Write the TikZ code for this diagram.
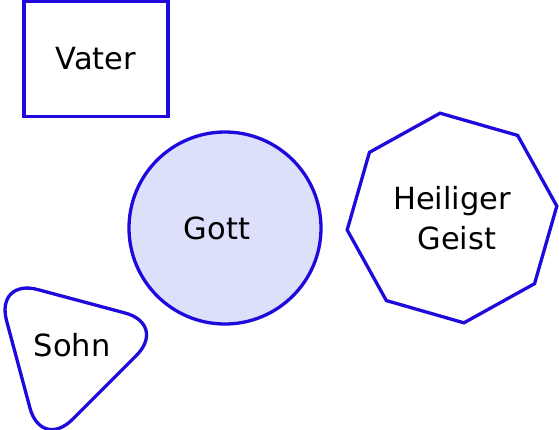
\documentclass[tikz,border=0pt]{standalone}
\usepackage{fontspec}
\setmainfont{DejaVu Sans}
\usetikzlibrary{shapes.geometric}
\definecolor{strokeblue}{RGB}{30,10,220}
\definecolor{godfill}{RGB}{221,224,250}

\begin{document}
\begin{tikzpicture}[
    x=1pt, y=-1pt,
    every node/.style={font=\fontsize{30.5}{40}\selectfont, align=center},
    basebox/.style={draw=strokeblue, line width=3.3pt, inner sep=0pt},
    person/.style={basebox, rectangle, minimum width=144pt, minimum height=115pt},
    godhead/.style={basebox, circle, fill=godfill, minimum size=192pt},
    spirit/.style={basebox, regular polygon, regular polygon sides=8,
                   shape border rotate=-16, minimum size=211pt},
    son/.style={basebox, regular polygon, regular polygon sides=3,
                shape border rotate=-75, minimum size=206pt, rounded corners=44pt}
]
\useasboundingbox (0,0) rectangle (559,429);
\node[person] (vater) at (96,59) {Vater};
\node[godhead] (gott) at (225,228) {};
\node (gotttext) at (217,228) {Gott};
\node[spirit] (geist) at (452,218) {Heiliger\\\ Geist};
\node[son] (sohn) at (68,351) {};
\node (sohntext) at (72,345) {Sohn};
\end{tikzpicture}
\end{document}
